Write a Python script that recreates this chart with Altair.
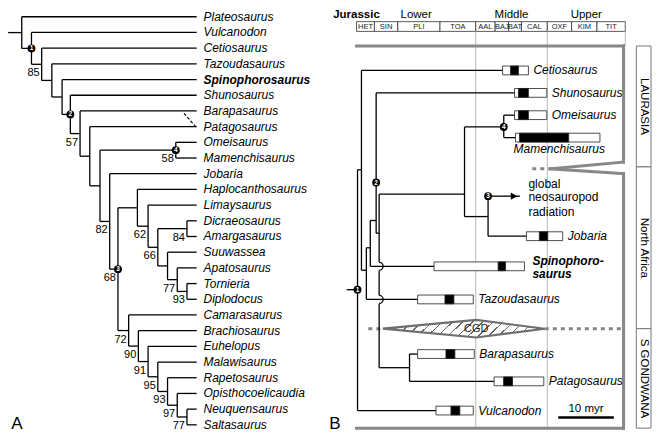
import altair as alt
import pandas as pd

FONT = "Liberation Sans"

# ---------------- Panel A: cladogram ----------------
taxa_A = ["Plateosaurus", "Vulcanodon", "Cetiosaurus", "Tazoudasaurus", "Spinophorosaurus",
          "Shunosaurus", "Barapasaurus", "Patagosaurus", "Omeisaurus", "Mamenchisaurus",
          "Jobaria", "Haplocanthosaurus", "Limaysaurus", "Dicraeosaurus", "Amargasaurus",
          "Suuwassea", "Apatosaurus", "Tornieria", "Diplodocus", "Camarasaurus",
          "Brachiosaurus", "Euhelopus", "Malawisaurus", "Rapetosaurus", "Opisthocoelicaudia",
          "Neuquensaurus", "Saltasaurus"]
bold_taxa = ["Spinophorosaurus"]
# internal nodes: (id, depth level, first child, second child)
nodes_A = [
    ("N0", 0.0, "Plateosaurus", "N1"),
    ("N1", 1.0, "Vulcanodon", "N2"),
    ("N2", 2.05, "Cetiosaurus", "N3"),
    ("N3", 3.1, "Tazoudasaurus", "N4"),
    ("N4", 4.15, "Spinophorosaurus", "N5"),
    ("N5", 5.0, "Shunosaurus", "N6"),
    ("N6", 6.0, "Barapasaurus", "N7"),
    ("N7", 7.0, "Patagosaurus", "N8"),
    ("N8", 8.05, "N9", "N10"),
    ("N9", 15.85, "Omeisaurus", "Mamenchisaurus"),
    ("N10", 9.05, "Jobaria", "N11"),
    ("N11", 9.9, "N12", "N18"),
    ("N12", 11.9, "Haplocanthosaurus", "N13"),
    ("N13", 13.0, "Limaysaurus", "N14"),
    ("N14", 14.0, "N15", "N16"),
    ("N15", 17.0, "Dicraeosaurus", "Amargasaurus"),
    ("N16", 15.0, "Suuwassea", "N17"),
    ("N17", 16.0, "Apatosaurus", "N17b"),
    ("N17b", 17.0, "Tornieria", "Diplodocus"),
    ("N18", 11.0, "Camarasaurus", "N19"),
    ("N19", 12.0, "Brachiosaurus", "N20"),
    ("N20", 13.0, "Euhelopus", "N21"),
    ("N21", 14.0, "Malawisaurus", "N22"),
    ("N22", 15.0, "Rapetosaurus", "N23"),
    ("N23", 16.0, "Opisthocoelicaudia", "N24"),
    ("N24", 17.0, "Neuquensaurus", "Saltasaurus"),
]
support_A = {"N2": 85, "N6": 57, "N9": 58, "N10": 82, "N11": 68, "N13": 62, "N14": 66,
             "N15": 84, "N17": 77, "N17b": 93, "N18": 72, "N19": 90, "N20": 91,
             "N21": 95, "N22": 93, "N23": 97, "N24": 77}
markers_A = {"N1": "1", "N5": "2", "N11": "3", "N9": "4"}
tip_level_A = 18.0
root_stub_A = -1.4
dashed_A_x = [16.7, 18.0]
dashed_A_y = [6.15, 7.08]

# ---------------- Panel B: time-calibrated tree ----------------
stages = ["HET", "SIN", "PLI", "TOA", "AAL", "BAJ", "BAT", "CAL", "OXF", "KIM", "TIT"]
stage_bounds_ma = [199.6, 196.0, 191.3, 182.8, 175.6, 171.7, 169.0, 166.4, 161.2, 156.3, 151.2, 145.5]
epochs = ["Lower", "Middle", "Upper"]
epoch_bounds_ma = [199.6, 175.6, 161.2, 145.5]

taxa_B = ["Cetiosaurus", "Shunosaurus", "Omeisaurus", "Mamenchisaurus", "Jobaria",
          "Spinophorosaurus", "Tazoudasaurus", "Barapasaurus", "Patagosaurus", "Vulcanodon"]
row_B = [3.42, 4.85, 6.27, 7.70, 13.98, 15.90, 18.01, 21.49, 23.23, 25.09]
range_start_B = [170.2, 167.8, 167.8, 167.6, 165.4, 184.0, 187.3, 187.3, 171.9, 183.6]
occ_start_B = [168.6, 167.0, 167.0, 166.8, 162.8, 171.1, 181.8, 181.6, 170.0, 180.6]
occ_end_B = [167.0, 165.0, 165.0, 156.9, 161.1, 169.6, 180.0, 179.8, 168.2, 178.8]
range_end_B = [165.0, 161.3, 161.3, 150.6, 158.1, 165.8, 176.1, 175.9, 161.9, 176.1]

node_age_B = {"b1": 199.40, "b2": 198.61, "b3": 197.62, "b4": 196.83, "b5": 195.65,
              "b6": 195.05, "b7": 188.93, "b8": 177.86, "b9": 169.96, "b10": 173.12}
# row where the parent branch meets each node's vertical
node_attach_row_B = {"b2": 9.75, "b3": 16.15, "b4": 14.72, "b5": 12.98, "b6": 13.79,
                     "b7": 22.36, "b8": 11.30, "b9": 7.02, "b10": 12.73}
branches_B = [("b1", "Vulcanodon"), ("b1", "b2"),
              ("b2", "Cetiosaurus"), ("b2", "b3"),
              ("b3", "Tazoudasaurus"), ("b3", "b4"),
              ("b4", "Spinophorosaurus"), ("b4", "b5"),
              ("b5", "Shunosaurus"), ("b5", "b6"),
              ("b6", "b7"), ("b6", "b8"),
              ("b7", "Barapasaurus"), ("b7", "Patagosaurus"),
              ("b8", "b9"), ("b8", "b10"),
              ("b9", "Omeisaurus"), ("b9", "Mamenchisaurus"),
              ("b10", "Jobaria")]
root_stub_B = (201.58, 17.39)
radiation_arrow_B = (167.2, 11.43)   # from b10
radiation_text = ["global", "neosauropod", "radiation"]
radiation_text_rows = [10.68, 11.49, 12.42]
markers_B = [("1", 199.40, 17.39), ("2", 195.65, 10.56), ("3", 173.12, 11.43), ("4", 169.96, 7.02)]

regions = ["LAURASIA", "North Africa", "S GONDWANA"]
region_bounds_rows = [1.863, 9.565, 19.876, 26.21]
region_box_ma = (143.28, 140.32)

cgd_row = 19.876
cgd_diamond_ma = [194.3, 175.5, 161.7]
cgd_half_height = [0.0, 0.56, 0.0]
cgd_dotted_ma = [(197.23, 194.3), (161.7, 145.85)]

frame_ma = (199.6, 145.85)
frame_rows = (1.863, 26.21)
wedge_tip_ma = 160.67
wedge_rows = (9.255, 9.69, 10.0)
wedge_dash_ma = (164.22, 161.66)

scale_bar_ma = (159.0, 147.8)
scale_bar_row = 25.53
scale_bar_label = "10 myr"

# ---------------- scales / page geometry ----------------
W, H = 645, 426
YS = alt.Scale(domain=[-0.559, 26.584], reverse=True, nice=False, zero=False)
XA = alt.Scale(domain=[-1.414, 64.95], nice=False, zero=False)
XB = alt.Scale(domain=[269.76, 139.92], nice=False, zero=False)


def rules(df, xs, **mk):
    return alt.Chart(pd.DataFrame(df)).mark_rule(**mk).encode(
        x=alt.X("x:Q", scale=xs, axis=None), x2="x2:Q",
        y=alt.Y("y:Q", scale=YS, axis=None), y2="y2:Q")


def texts(df, xs, **mk):
    return alt.Chart(pd.DataFrame(df)).mark_text(font=FONT, **mk).encode(
        x=alt.X("x:Q", scale=xs, axis=None),
        y=alt.Y("y:Q", scale=YS, axis=None),
        text="t:N")


def rects(df, xs, **mk):
    return alt.Chart(pd.DataFrame(df)).mark_rect(**mk).encode(
        x=alt.X("x:Q", scale=xs, axis=None), x2="x2:Q",
        y=alt.Y("y:Q", scale=YS, axis=None), y2="y2:Q")


def points(df, xs, kind="point", **mk):
    ch = alt.Chart(pd.DataFrame(df))
    m = ch.mark_circle(**mk) if kind == "circle" else ch.mark_point(**mk)
    return m.encode(x=alt.X("x:Q", scale=xs, axis=None),
                    y=alt.Y("y:Q", scale=YS, axis=None))


layers = []

# ===== Panel A =====
posA = {t: (tip_level_A, float(i)) for i, t in enumerate(taxa_A)}
nmap = {n[0]: n for n in nodes_A}


def place(nid):
    if nid in posA:
        return posA[nid]
    _, lvl, c1, c2 = nmap[nid]
    y = (place(c1)[1] + place(c2)[1]) / 2
    posA[nid] = (lvl, y)
    return posA[nid]


place("N0")
segA = {"x": [], "x2": [], "y": [], "y2": []}


def addseg(d, x, y, x2, y2):
    d["x"].append(x); d["y"].append(y); d["x2"].append(x2); d["y2"].append(y2)


for nid, lvl, c1, c2 in nodes_A:
    y1, y2 = posA[c1][1], posA[c2][1]
    addseg(segA, lvl, y1, lvl, y2)
    for c in (c1, c2):
        addseg(segA, lvl, posA[c][1], posA[c][0], posA[c][1])
addseg(segA, root_stub_A, posA["N0"][1], 0.0, posA["N0"][1])
layers.append(rules(segA, XA, color="black", strokeWidth=1.3))
layers.append(rules({"x": [dashed_A_x[0]], "x2": [dashed_A_x[1]], "y": [dashed_A_y[0]], "y2": [dashed_A_y[1]]},
                    XA, color="black", strokeWidth=1.2, strokeDash=[3, 2]))

plain = [t for t in taxa_A if t not in bold_taxa]
layers.append(texts({"x": [tip_level_A + 0.7] * len(plain), "y": [posA[t][1] for t in plain], "t": plain},
                    XA, align="left", baseline="middle", fontSize=12, fontStyle="italic", color="black"))
layers.append(texts({"x": [tip_level_A + 0.7] * len(bold_taxa), "y": [posA[t][1] for t in bold_taxa], "t": bold_taxa},
                    XA, align="left", baseline="middle", fontSize=12, fontStyle="italic", fontWeight="bold",
                    color="black"))
layers.append(texts({"x": [posA[k][0] for k in support_A], "y": [posA[k][1] for k in support_A],
                     "t": [str(v) for v in support_A.values()]},
                    XA, align="right", baseline="middle", dx=-2, dy=9, fontSize=11, color="black"))
layers.append(points({"x": [posA[k][0] for k in markers_A], "y": [posA[k][1] for k in markers_A]},
                     XA, kind="circle", size=62, color="black", opacity=1))
layers.append(texts({"x": [posA[k][0] for k in markers_A], "y": [posA[k][1] for k in markers_A],
                     "t": list(markers_A.values())},
                    XA, align="center", baseline="middle", fontSize=6.5, fontWeight="bold", color="white"))
layers.append(texts({"x": [-0.5], "y": [25.95], "t": ["A"]}, XA, align="center", baseline="middle",
                    fontSize=17, color="black"))

# ===== Panel B =====
# stage header
layers.append(rects({"x": stage_bounds_ma[:-1], "x2": stage_bounds_ma[1:], "y": [0.311] * 11, "y2": [0.932] * 11},
                    XB, fill="white", stroke="#333", strokeWidth=0.8))
layers.append(texts({"x": [(a + b) / 2 for a, b in zip(stage_bounds_ma[:-1], stage_bounds_ma[1:])],
                     "y": [0.63] * 11, "t": stages},
                    XB, align="center", baseline="middle", fontSize=7.5, color="#222"))
layers.append(texts({"x": [(a + b) / 2 for a, b in zip(epoch_bounds_ma[:-1], epoch_bounds_ma[1:])],
                     "y": [-0.14] * 3, "t": epochs},
                    XB, align="center", baseline="middle", fontSize=11.5, color="black"))
layers.append(texts({"x": [epoch_bounds_ma[0]], "y": [-0.14], "t": ["Jurassic"]},
                    XB, align="center", baseline="middle", fontSize=11.5, fontWeight="bold", color="black"))
# thin gray epoch lines
layers.append(rules({"x": [175.6, 161.2, 145.5], "x2": [175.6, 161.2, 145.5],
                     "y": [0.932] * 3, "y2": [frame_rows[1], frame_rows[1], frame_rows[0]]},
                    XB, color="#b8b8b8", strokeWidth=1))
# thick gray frame with wedge
fr = {"x": [], "x2": [], "y": [], "y2": []}
addseg(fr, frame_ma[0], frame_rows[0], frame_ma[1], frame_rows[0])
addseg(fr, frame_ma[0], frame_rows[1], frame_ma[1], frame_rows[1])
addseg(fr, frame_ma[1], frame_rows[0], frame_ma[1], wedge_rows[0])
addseg(fr, frame_ma[1], wedge_rows[2], frame_ma[1], frame_rows[1])
addseg(fr, frame_ma[1], wedge_rows[0], wedge_tip_ma, wedge_rows[1])
addseg(fr, wedge_tip_ma, wedge_rows[1], frame_ma[1], wedge_rows[2])
layers.append(rules(fr, XB, color="#888888", strokeWidth=3, strokeCap="square"))
dd = {"x": [], "x2": [], "y": [], "y2": []}
addseg(dd, wedge_dash_ma[0], wedge_rows[1], wedge_dash_ma[1], wedge_rows[1])
for a, b in cgd_dotted_ma:
    addseg(dd, a, cgd_row, b, cgd_row)
layers.append(rules(dd, XB, color="#888888", strokeWidth=3, strokeDash=[4, 4]))

# CGD diamond with hatching gradient
N = 17
stops = []
for i in range(N):
    a = i / N
    b = a + 0.16 / N
    stops += [{"offset": a, "color": "#666666"}, {"offset": min(b, 1), "color": "#666666"},
              {"offset": min(b, 1), "color": "#ffffff"}, {"offset": min(a + 1 / N, 1), "color": "#ffffff"}]
grad = {"gradient": "linear", "x1": 0, "y1": 0, "x2": 1.05, "y2": 0.12, "stops": stops}
dia = pd.DataFrame({"x": cgd_diamond_ma,
                    "y": [cgd_row - h for h in cgd_half_height],
                    "y2": [cgd_row + h for h in cgd_half_height]})
layers.append(alt.Chart(dia).mark_area(fill=grad, stroke="#6e6e6e", strokeWidth=2.2, fillOpacity=1).encode(
    x=alt.X("x:Q", scale=XB, axis=None), y=alt.Y("y:Q", scale=YS, axis=None), y2="y2:Q"))
layers.append(texts({"x": [cgd_diamond_ma[1]], "y": [cgd_row], "t": ["CGD"]}, XB, align="center",
                    baseline="middle", fontSize=11, color="#222"))

# tree segments
tip_row = dict(zip(taxa_B, row_B))
tip_start = dict(zip(taxa_B, range_start_B))
vert = {}
horiz = []
for p, c in branches_B:
    if c in node_age_B:
        r, xe = node_attach_row_B[c], node_age_B[c]
    else:
        r, xe = tip_row[c], tip_start[c]
    horiz.append((node_age_B[p], xe, r))
    vert.setdefault(p, []).append(r)
vert.setdefault("b10", []).append(radiation_arrow_B[1])
horiz.append((node_age_B["b10"], radiation_arrow_B[0] - 0.5, radiation_arrow_B[1]))
horiz.append((root_stub_B[0], node_age_B["b1"], root_stub_B[1]))
vsegs = [(node_age_B[k], min(v), max(v)) for k, v in vert.items()]

tree = {"x": [], "x2": [], "y": [], "y2": []}
hops = {"x": [], "y": []}
gap = 0.27
for a, r0, r1 in vsegs:
    cuts = sorted(r for (h0, h1, r) in horiz
                  if r0 + 0.05 < r < r1 - 0.05 and min(h0, h1) < a - 0.05 and max(h0, h1) > a + 0.05)
    start = r0
    for r in cuts:
        addseg(tree, a, start, a, r - gap)
        hops["x"].append(a); hops["y"].append(r)
        start = r + gap
    addseg(tree, a, start, a, r1)
for h0, h1, r in horiz:
    addseg(tree, h0, r, h1, r)
layers.append(rules(tree, XB, color="black", strokeWidth=1.3))
layers.append(points(hops, XB, shape="M0,-1A1,1,0,0,1,0,1", size=64, filled=False, stroke="black",
                     strokeWidth=1.3, opacity=1))
layers.append(points({"x": [radiation_arrow_B[0] + 0.7], "y": [radiation_arrow_B[1]]}, XB,
                     shape="triangle-right", size=55, filled=True, color="black", opacity=1))

# stratigraphic range boxes
hb = 0.28
layers.append(rects({"x": range_start_B, "x2": range_end_B, "y": [r - hb for r in row_B], "y2": [r + hb for r in row_B]},
                    XB, fill="white", stroke="#222", strokeWidth=0.8))
layers.append(rects({"x": occ_start_B, "x2": occ_end_B, "y": [r - hb for r in row_B], "y2": [r + hb for r in row_B]},
                    XB, fill="black", stroke="#222", strokeWidth=0.8))
# taxon labels
lab = [(t, e - 1.0, r) for t, e, r in zip(taxa_B, range_end_B, row_B)
       if t not in ("Mamenchisaurus", "Spinophorosaurus")]
layers.append(texts({"x": [l[1] for l in lab], "y": [l[2] for l in lab], "t": [l[0] for l in lab]},
                    XB, align="left", baseline="middle", fontSize=12, fontStyle="italic", color="black"))
layers.append(texts({"x": [168.0], "y": [8.45], "t": ["Mamenchisaurus"]},
                    XB, align="left", baseline="middle", fontSize=12, fontStyle="italic", color="black"))
layers.append(texts({"x": [164.2, 164.2], "y": [15.53, 16.40], "t": ["Spinophoro-", "saurus"]},
                    XB, align="left", baseline="middle", fontSize=12, fontStyle="italic", fontWeight="bold",
                    color="black"))
layers.append(texts({"x": [165.0] * 3, "y": radiation_text_rows, "t": radiation_text},
                    XB, align="left", baseline="middle", fontSize=12, color="black"))
# node markers
layers.append(points({"x": [m[1] for m in markers_B], "y": [m[2] for m in markers_B]}, XB, kind="circle",
                     size=62, color="black", opacity=1))
layers.append(texts({"x": [m[1] for m in markers_B], "y": [m[2] for m in markers_B], "t": [m[0] for m in markers_B]},
                    XB, align="center", baseline="middle", fontSize=6.5, fontWeight="bold", color="white"))
# scale bar
layers.append(rules({"x": [scale_bar_ma[0]], "x2": [scale_bar_ma[1]], "y": [scale_bar_row], "y2": [scale_bar_row]},
                    XB, color="black", strokeWidth=2.5))
layers.append(texts({"x": [(scale_bar_ma[0] + scale_bar_ma[1]) / 2], "y": [scale_bar_row - 0.53],
                     "t": [scale_bar_label]}, XB, align="center", baseline="middle", fontSize=11.5, color="black"))
# region boxes
layers.append(rects({"x": [region_box_ma[0]] * 3, "x2": [region_box_ma[1]] * 3,
                     "y": region_bounds_rows[:-1], "y2": region_bounds_rows[1:]},
                    XB, fill="white", stroke="#777", strokeWidth=1))
layers.append(texts({"x": [(region_box_ma[0] + region_box_ma[1]) / 2] * 3,
                     "y": [(a + b) / 2 for a, b in zip(region_bounds_rows[:-1], region_bounds_rows[1:])],
                     "t": regions}, XB, align="center", baseline="middle", angle=90, fontSize=11.5, color="black"))
layers.append(texts({"x": [203.95], "y": [25.95], "t": ["B"]}, XB, align="center", baseline="middle",
                    fontSize=17, color="black"))

chart = alt.layer(*layers).resolve_scale(x="independent").properties(
    width=W, height=H, padding=0, autosize=alt.AutoSizeParams(type="none")
).configure_view(stroke=None)

chart.save("out.html", embed_options={"renderer": "svg", "actions": False})
